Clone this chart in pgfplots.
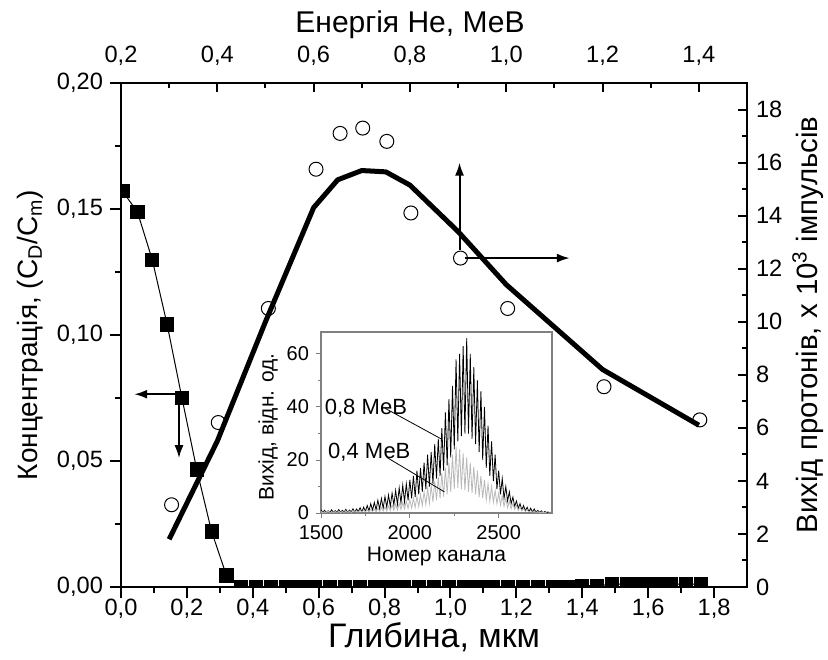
\documentclass[border=0pt]{standalone}
\usepackage{fontspec}
\setmainfont{Liberation Sans}
\usepackage{pgfplots}
\pgfplotsset{compat=1.18}
\usetikzlibrary{arrows.meta}
\definecolor{specgray}{RGB}{185,185,185}
\definecolor{insetaxis}{RGB}{128,128,128}
\newcommand{\tickfont}{\fontsize{11.8}{14}\selectfont}
\newcommand{\labfont}{\fontsize{14}{17}\selectfont}
\begin{document}
\begin{tikzpicture}
\useasboundingbox (-60.5pt,-36pt) rectangle (353.5pt,293.5pt);
% ---------------- layer 1: depth / concentration ----------------
\begin{axis}[
  at={(0pt,0pt)}, anchor=south west,
  scale only axis, width=313pt, height=252pt,
  xmin=0, xmax=1.9, ymin=0, ymax=0.2,
  xtick={0,0.2,0.4,0.6,0.8,1.0,1.2,1.4,1.6,1.8}, minor x tick num=1,
  ytick={0,0.05,0.1,0.15,0.2}, minor y tick num=1,
  xtick pos=left, ytick pos=left,
  tick align=outside,
  major tick length=5.5pt, minor tick length=3pt,
  axis line style={line width=1.2pt},
  tick style={black, line width=1pt},
  xticklabel style={font=\tickfont, yshift=3pt, /pgf/number format/.cd, fixed, fixed zerofill, precision=1, use comma, assume math mode=true},
  yticklabel style={font=\tickfont, /pgf/number format/.cd, fixed, fixed zerofill, precision=2, use comma, assume math mode=true},
  scaled ticks=false,
  xlabel={Глибина, мкм},
  xlabel style={at={(axis description cs:0.5,-0.121)}, anchor=base, font=\fontsize{17}{20}\selectfont},
  ylabel={Концентрація, (C\textsubscript{D}/C\textsubscript{m})},
  ylabel style={at={(axis description cs:-0.145,0.5)}, anchor=center, font=\labfont},
  clip marker paths=true,
]
\addplot[black, line width=0.5pt, mark=square*, mark size=3.3pt, mark options={solid, fill=black}] coordinates {
(0.005,0.157) (0.050,0.1488) (0.095,0.1298) (0.140,0.1042) (0.185,0.0750)
(0.230,0.0466) (0.275,0.0220) (0.320,0.0046)
(0.365,0.00002) (0.410,0.00002) (0.455,0.00002) (0.500,0.00002) (0.545,0.00002)
(0.590,0.00002) (0.635,0.00002) (0.680,0.00002) (0.725,0.00002) (0.770,0.00002)
(0.815,0.00002) (0.860,0.00002) (0.905,0.00002) (0.950,0.00002) (0.995,0.00002)
(1.040,0.00002) (1.085,0.00002) (1.130,0.00002) (1.175,0.00002) (1.220,0.00002)
(1.265,0.00002) (1.310,0.00002) (1.355,0.00002)
(1.400,0.0005) (1.445,0.0005)
(1.490,0.0011) (1.535,0.0011) (1.580,0.0011) (1.625,0.0011) (1.670,0.0011)
(1.715,0.0011) (1.760,0.0011)
};
\draw[line width=1pt, -{Latex[length=6.5pt,width=4.5pt]}] (axis cs:0.176,0.0765) -- (axis cs:0.040,0.0765);
\draw[line width=1pt, -{Latex[length=6.5pt,width=4.5pt]}] (axis cs:0.176,0.0765) -- (axis cs:0.176,0.0511);
\end{axis}
% ---------------- layer 2: energy / proton yield ----------------
\begin{axis}[
  at={(0pt,0pt)}, anchor=south west,
  scale only axis, width=313pt, height=252pt,
  xmin=0.2, xmax=1.5, ymin=0, ymax=19,
  xtick={0.2,0.4,0.6,0.8,1.0,1.2,1.4}, minor x tick num=1,
  ytick={0,2,4,6,8,10,12,14,16,18}, minor y tick num=1,
  xtick pos=right, ytick pos=right, xticklabel pos=right, yticklabel pos=right,
  tick align=inside,
  major tick length=4.5pt, minor tick length=2.5pt,
  axis line style={line width=1.2pt},
  tick style={black, line width=1pt},
  xticklabel style={font=\tickfont, yshift=5pt, /pgf/number format/.cd, fixed, fixed zerofill, precision=1, use comma, assume math mode=true},
  yticklabel style={font=\tickfont, xshift=1pt, /pgf/number format/.cd, fixed, precision=0, assume math mode=true},
  scaled ticks=false,
  xlabel={Енергія He, МеВ},
  xlabel style={at={(axis description cs:0.4617,1.101)}, anchor=base, font=\fontsize{15}{18}\selectfont},
  ylabel={Вихід протонів, х 10\textsuperscript{3} імпульсів},
  ylabel style={at={(axis description cs:1.097,0.52)}, anchor=center, font=\fontsize{14.7}{17}\selectfont},
]
\addplot[black, line width=2.5pt, line join=round, no marks] coordinates {
(0.3,1.8) (0.4,5.5) (0.5,10.0) (0.6,14.3) (0.65,15.35) (0.7,15.7) (0.75,15.65)
(0.8,15.15) (0.9,13.4) (1.0,11.4) (1.2,8.2) (1.4,6.1)
};
\addplot[black, line width=0.5pt, only marks, mark=o, mark size=3.5pt] coordinates {
(0.305,3.1) (0.402,6.2) (0.506,10.5) (0.605,15.75) (0.655,17.1) (0.702,17.3)
(0.752,16.8) (0.802,14.1) (0.905,12.4) (1.003,10.5) (1.203,7.55) (1.402,6.3)
};
\draw[line width=1pt, -{Latex[length=6.5pt,width=4.5pt]}] (axis cs:0.903,12.7) -- (axis cs:0.903,16.0);
\draw[line width=1pt, -{Latex[length=6.5pt,width=4.5pt]}] (axis cs:0.915,12.4) -- (axis cs:1.132,12.4);
\end{axis}
% ---------------- inset: spectra ----------------
\begin{axis}[
  at={(100pt,37pt)}, anchor=south west,
  scale only axis, width=115.5pt, height=90.5pt,
  xmin=1500, xmax=2800, ymin=0, ymax=68.3,
  xtick={1500,2000,2500}, ytick={0,20,40,60},
  minor x tick num=1, minor y tick num=1,
  xtick pos=left, ytick pos=left,
  tick align=outside,
  major tick length=2.5pt, minor tick length=1.5pt,
  axis line style={insetaxis, line width=0.6pt},
  tick style={insetaxis, line width=0.5pt},
  xticklabel style={font=\fontsize{10}{12}\selectfont, /pgf/number format/.cd, 1000 sep={}, assume math mode=true},
  yticklabel style={font=\fontsize{10}{12}\selectfont, /pgf/number format/.cd, assume math mode=true},
  scaled ticks=false,
  xlabel={Номер канала},
  xlabel style={at={(axis description cs:0.5,-0.241)}, anchor=center, font=\fontsize{10.5}{12}\selectfont},
  ylabel={Вихід, відн. од.},
  ylabel style={at={(axis description cs:-0.229,0.475)}, anchor=center, font=\fontsize{10.5}{12}\selectfont},
]
\addplot[black, line width=0.4pt, no marks] coordinates {
(1500,1.2)(1510,0.2)(1520,1.0)(1530,0.1)(1540,0.8)(1550,0.2)(1560,1.2)(1570,0.1)(1580,0.9)(1590,0.3)
(1600,1.3)(1610,0.2)(1620,1.0)(1630,0.3)(1640,1.4)(1650,0.2)(1660,1.1)(1670,0.4)(1680,1.6)(1690,0.3)
(1700,1.5)(1710,0.5)(1720,2.0)(1730,0.4)(1740,2.2)(1750,0.6)(1760,2.8)(1770,0.8)(1780,3.5)(1790,1.0)
(1800,4.0)(1810,1.2)(1820,4.8)(1830,1.5)(1840,5.5)(1850,1.8)(1860,6.2)(1870,2.2)(1880,6.8)(1890,2.5)
(1900,7.5)(1910,3.0)(1920,8.5)(1930,3.2)(1940,9.5)(1950,3.8)(1960,10.5)(1970,4.2)(1980,11)(1990,4.8)
(2000,12.5)(2010,5.5)(2020,14)(2030,6)(2040,16)(2050,7)(2060,17)(2070,8)(2080,19)(2090,9)
(2100,22)(2110,10)(2120,23)(2130,11)(2140,26)(2150,13)(2160,28)(2170,14)(2180,32)(2190,16)
(2200,38)(2210,18)(2220,43)(2230,21)(2240,48)(2250,24)(2260,58)(2270,27)(2280,60)(2290,29)
(2300,63)(2310,30)(2320,66)(2330,30)(2340,60)(2350,28)(2360,55)(2370,26)(2380,50)(2390,23)
(2400,46)(2410,20)(2420,40)(2430,17)(2440,33)(2450,14)(2460,27)(2470,12)(2480,22)(2490,9)
(2500,16)(2510,7)(2520,13)(2530,5.5)(2540,10)(2550,4.5)(2560,8)(2570,3.5)(2580,6)(2590,2.5)
(2600,4.5)(2610,1.8)(2620,3.5)(2630,1.2)(2640,2.8)(2650,0.8)(2660,2.2)(2670,0.5)(2680,1.8)(2690,0.4)
(2700,1.5)(2710,0.3)(2720,1.0)(2730,0.2)(2740,0.8)(2750,0.1)(2760,0.6)(2770,0.1)(2780,0.5)
};
\addplot[specgray, line width=0.4pt, no marks] coordinates {
(1500,0.6)(1510,0.1)(1520,0.5)(1530,0.1)(1540,0.7)(1550,0.2)(1560,0.5)(1570,0.1)(1580,0.6)(1590,0.2)
(1600,0.7)(1610,0.1)(1620,0.6)(1630,0.2)(1640,0.8)(1650,0.2)(1660,0.7)(1670,0.2)(1680,0.9)(1690,0.3)
(1700,0.8)(1710,0.3)(1720,1.0)(1730,0.3)(1740,1.1)(1750,0.4)(1760,1.2)(1770,0.4)(1780,1.4)(1790,0.5)
(1800,1.5)(1810,0.5)(1820,1.8)(1830,0.6)(1840,2.0)(1850,0.7)(1860,2.3)(1870,0.8)(1880,2.6)(1890,0.9)
(1900,3.0)(1910,1.0)(1920,3.3)(1930,1.1)(1940,3.7)(1950,1.3)(1960,4.0)(1970,1.5)(1980,4.5)(1990,1.7)
(2000,5.0)(2010,1.9)(2020,5.6)(2030,2.1)(2040,6.3)(2050,2.4)(2060,7.0)(2070,2.8)(2080,8.0)(2090,3.2)
(2100,9.2)(2110,3.6)(2120,10.5)(2130,4.2)(2140,12)(2150,4.8)(2160,13.5)(2170,5.5)(2180,15)(2190,6.2)
(2200,17)(2210,7)(2220,19)(2230,8)(2240,22)(2250,9)(2260,25)(2270,9.5)(2280,24)(2290,9)
(2300,22.5)(2310,8.5)(2320,21)(2330,8)(2340,19)(2350,7.5)(2360,17.5)(2370,7)(2380,16)(2390,6)
(2400,14)(2410,5.5)(2420,12.5)(2430,5)(2440,11)(2450,4.5)(2460,10)(2470,4)(2480,8.5)(2490,3.5)
(2500,7.5)(2510,3)(2520,6.5)(2530,2.5)(2540,5.5)(2550,2)(2560,4.5)(2570,1.6)(2580,3.6)(2590,1.3)
(2600,2.8)(2610,1)(2620,2.2)(2630,0.8)(2640,1.6)(2650,0.6)(2660,1.2)(2670,0.4)(2680,0.9)(2690,0.3)
(2700,0.7)(2710,0.2)(2720,0.5)(2730,0.1)(2740,0.4)(2750,0.1)(2760,0.3)(2770,0.1)
};
\draw[black, line width=0.4pt] (axis cs:1861,39.5) -- (axis cs:2181,27.8);
\draw[black, line width=0.4pt] (axis cs:1870,21) -- (axis cs:2194,8);
\node[anchor=base, inner sep=0pt, font=\fontsize{11}{13}\selectfont] at (axis cs:1753,37.0) {0,8 МеВ};
\node[anchor=base, inner sep=0pt, font=\fontsize{11}{13}\selectfont] at (axis cs:1772,20.6) {0,4 МеВ};
\end{axis}
\end{tikzpicture}
\end{document}
